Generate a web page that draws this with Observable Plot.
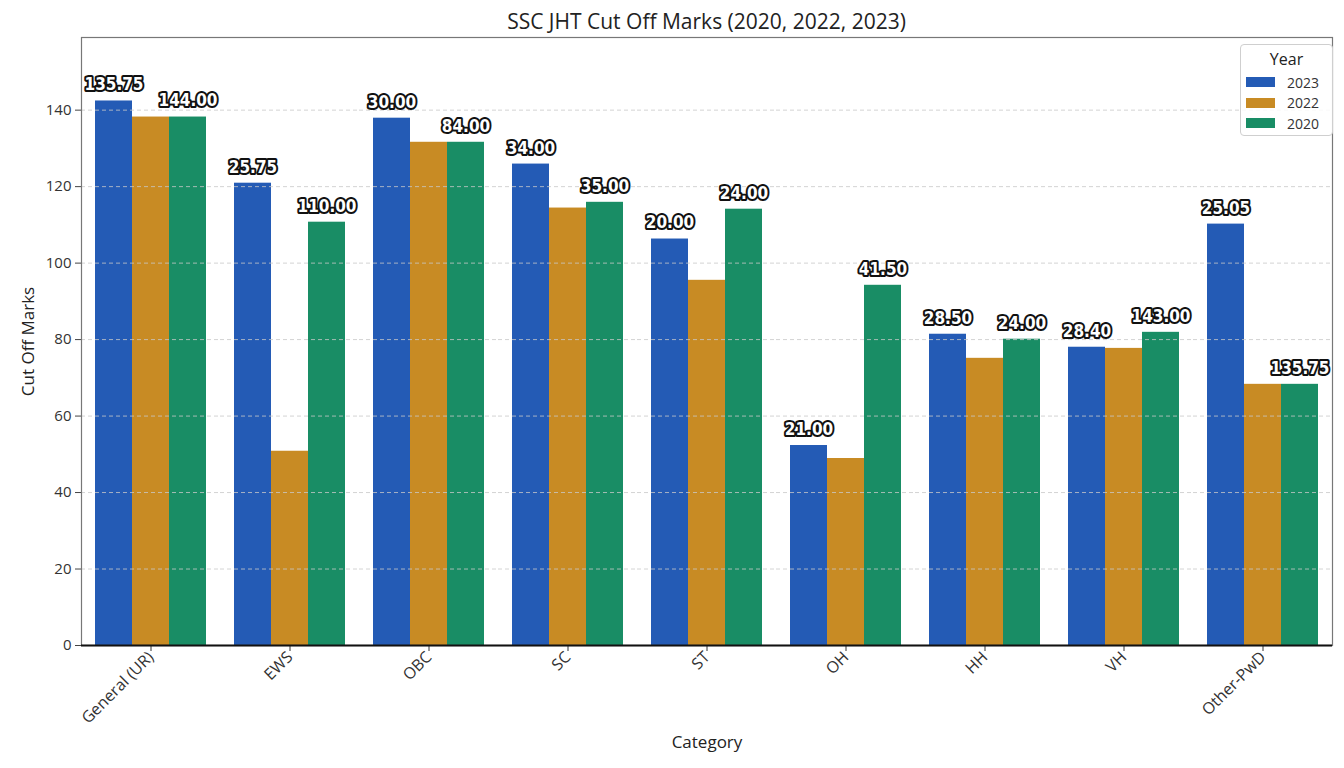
<!DOCTYPE html>
<html>
<head>
<meta charset="utf-8">
<script src="https://cdn.jsdelivr.net/npm/d3@7"></script>
<script src="https://cdn.jsdelivr.net/npm/@observablehq/plot@0.6"></script>
<style>
  html, body { margin: 0; padding: 0; background: #fff; }
  #wrap { position: relative; width: 1344px; height: 768px; overflow: hidden; font-family: "Open Sans", sans-serif; }
  #title { height: 36px; box-sizing: border-box; padding-top: 8px; padding-left: 69px; text-align: center; font-size: 21px; line-height: 27px; color: #222; }
  #legend { position: absolute; left: 1240px; top: 44px; width: 93px; height: 92px; box-sizing: border-box;
            border: 1px solid #cfcfcf; border-radius: 4px; background: rgba(255,255,255,0.85); padding: 3px 0 0 5px; }
  #legend .lt { text-align: center; font-size: 16px; color: #222; margin-bottom: 2px; padding-right: 5px; }
  #legend .row { display: flex; align-items: center; height: 20.5px; font-size: 14px; color: #333; }
  #legend .sw { width: 29px; height: 10px; margin-right: 12px; }
</style>
</head>
<body>
<div id="wrap">
  <div id="title">SSC JHT Cut Off Marks (2020, 2022, 2023)</div>
  <div id="chart"></div>
  <div id="legend"></div>
</div>
<script>
const categories = ["General (UR)", "EWS", "OBC", "SC", "ST", "OH", "HH", "VH", "Other-PwD"];
const years = ["2023", "2022", "2020"];
const colors = ["#245bb5", "#c88b24", "#198d65"];
const marks2023 = [142.4, 120.9, 137.9, 125.9, 106.3, 52.3, 81.4, 78.0, 110.2];
const marks2022 = [138.2, 50.8, 131.6, 114.4, 95.5, 48.9, 75.1, 77.7, 68.3];
const marks2020 = [138.2, 110.7, 131.6, 115.9, 114.1, 94.2, 80.1, 81.9, 68.3];
const labels2023 = ["135.75", "25.75", "30.00", "34.00", "20.00", "21.00", "28.50", "28.40", "25.05"];
const labels2020 = ["144.00", "110.00", "84.00", "35.00", "24.00", "41.50", "24.00", "143.00", "135.75"];
const yTicks = [0, 20, 40, 60, 80, 100, 120, 140];

const series = {"2023": marks2023, "2022": marks2022, "2020": marks2020};
const rows = [];
years.forEach(y => categories.forEach((c, i) => rows.push({cat: c, year: y, value: series[y][i]})));
const labelRows = [];
categories.forEach((c, i) => {
  labelRows.push({cat: c, year: "2023", value: marks2023[i], label: labels2023[i]});
  labelRows.push({cat: c, year: "2020", value: marks2020[i], label: labels2020[i]});
});

const chart = Plot.plot({
  width: 1344,
  height: 732,
  marginTop: 1,
  marginLeft: 79,
  marginRight: 10,
  marginBottom: 123,
  style: {fontFamily: "'Open Sans', sans-serif", fontSize: "15px", color: "#333", background: "#fff"},
  fx: {domain: categories, padding: 0, label: null},
  x: {domain: years, paddingInner: 0, paddingOuter: 0.375, axis: null},
  y: {domain: [0, 159], axis: null},
  color: {domain: years, range: colors},
  marks: [
    Plot.barY(rows, {fx: "cat", x: "year", y: "value", fill: "year"}),
    Plot.ruleY(yTicks.slice(1), {stroke: "#c8c8c8", strokeDasharray: "4,3", strokeOpacity: 0.8}),
    Plot.axisY({ticks: yTicks, tickSize: 6, tickPadding: 4, fontSize: 15, stroke: "#444", label: null}),
    Plot.axisY({ticks: [], tickSize: 0, fontSize: 17, fill: "#222",
      label: "Cut Off Marks", labelAnchor: "center", labelOffset: 60, labelArrow: "none"}),
    Plot.axisFx({anchor: "bottom", tickRotate: -45, tickSize: 6, tickPadding: 3, label: null, fontSize: 16}),
    Plot.frame({facet: "super", stroke: "#777", strokeWidth: 1.2}),
    Plot.ruleY([0], {stroke: "#111", strokeWidth: 2}),
    Plot.text(labelRows, {
      fx: "cat", x: "year", y: "value", text: "label", dy: -16,
      fill: "#fff", stroke: "#111", strokeWidth: 4, paintOrder: "stroke",
      fontFamily: "'DejaVu Sans Condensed', sans-serif", fontWeight: "bold", fontSize: 17
    }),
    Plot.text(["Category"], {facet: "super", text: d => d, frameAnchor: "bottom", dy: 102, fontSize: 17, fill: "#222"})
  ]
});
document.getElementById("chart").appendChild(chart);

const legend = document.getElementById("legend");
const lt = document.createElement("div");
lt.className = "lt";
lt.textContent = "Year";
legend.appendChild(lt);
const cs = chart.scale("color");
cs.domain.forEach(y => {
  const row = document.createElement("div");
  row.className = "row";
  const sw = document.createElement("div");
  sw.className = "sw";
  sw.style.background = cs.apply(y);
  const tx = document.createElement("span");
  tx.textContent = y;
  row.appendChild(sw);
  row.appendChild(tx);
  legend.appendChild(row);
});
</script>
</body>
</html>
